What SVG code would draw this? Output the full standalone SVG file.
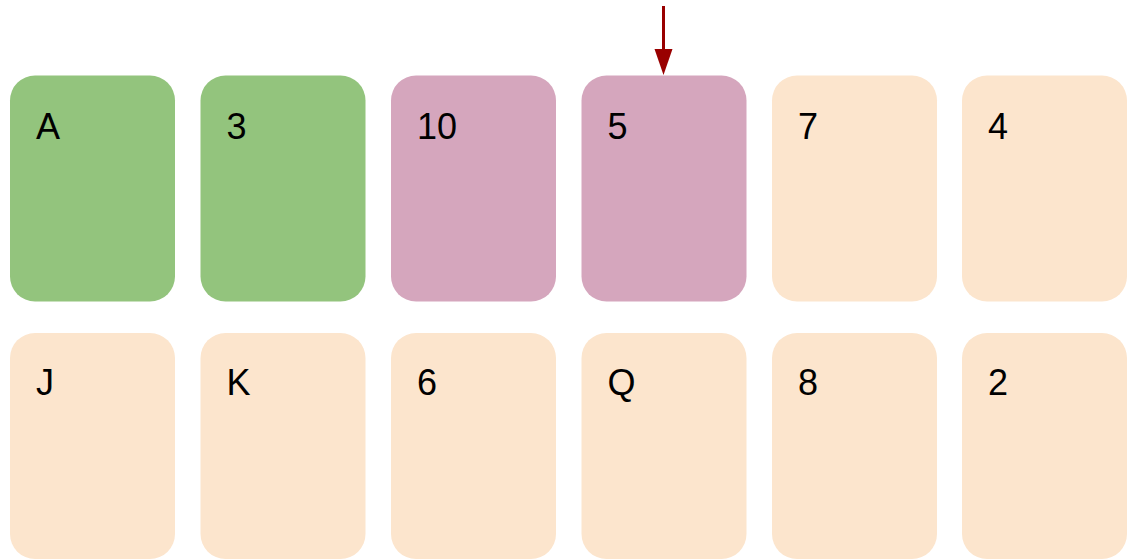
<svg xmlns="http://www.w3.org/2000/svg" width="1130" height="560" viewBox="0 0 1130 560">
<style>
.card{stroke:none}
.g{fill:#93c47d}
.p{fill:#d5a6bd}
.o{fill:#fce5cd}
.t{font-family:"Liberation Sans",Arial,sans-serif;font-size:36px;fill:#000}
.arrow{stroke:#990000;stroke-width:3;fill:none}
</style>
<defs>
<marker id="ah" markerWidth="18" markerHeight="26" refX="9" refY="26" orient="auto" markerUnits="userSpaceOnUse" viewBox="0 0 18 26">
<path d="M0,0 L18,0 L9,26 Z" fill="#990000" transform="rotate(-90 9 13) translate(-4 4)"/>
</marker>
</defs>
<g id="card-A"><rect class="card g" x="10" y="75.5" width="165" height="226" rx="25"/><text class="t" x="36" y="138.5">A</text></g>
<g id="card-3"><rect class="card g" x="200.5" y="75.5" width="165" height="226" rx="25"/><text class="t" x="226.5" y="138.5">3</text></g>
<g id="card-10"><rect class="card p" x="391" y="75.5" width="165" height="226" rx="25"/><text class="t" x="417" y="138.5">10</text></g>
<g id="card-5"><rect class="card p" x="581.5" y="75.5" width="165" height="226" rx="25"/><text class="t" x="607.5" y="138.5">5</text></g>
<g id="card-7"><rect class="card o" x="772" y="75.5" width="165" height="226" rx="25"/><text class="t" x="798" y="138.5">7</text></g>
<g id="card-4"><rect class="card o" x="962" y="75.5" width="165" height="226" rx="25"/><text class="t" x="988" y="138.5">4</text></g>
<g id="card-J"><rect class="card o" x="10" y="333" width="165" height="226" rx="25"/><text class="t" x="36" y="395">J</text></g>
<g id="card-K"><rect class="card o" x="200.5" y="333" width="165" height="226" rx="25"/><text class="t" x="226.5" y="395">K</text></g>
<g id="card-6"><rect class="card o" x="391" y="333" width="165" height="226" rx="25"/><text class="t" x="417" y="395">6</text></g>
<g id="card-Q"><rect class="card o" x="581.5" y="333" width="165" height="226" rx="25"/><text class="t" x="607.5" y="395">Q</text></g>
<g id="card-8"><rect class="card o" x="772" y="333" width="165" height="226" rx="25"/><text class="t" x="798" y="395">8</text></g>
<g id="card-2"><rect class="card o" x="962" y="333" width="165" height="226" rx="25"/><text class="t" x="988" y="395">2</text></g>
<g id="connectors">
<line class="arrow" x1="663.5" y1="6" x2="663.5" y2="52"/>
<path d="M654.5,49 L672.5,49 L663.5,75 Z" fill="#990000"/>
</g>
</svg>
